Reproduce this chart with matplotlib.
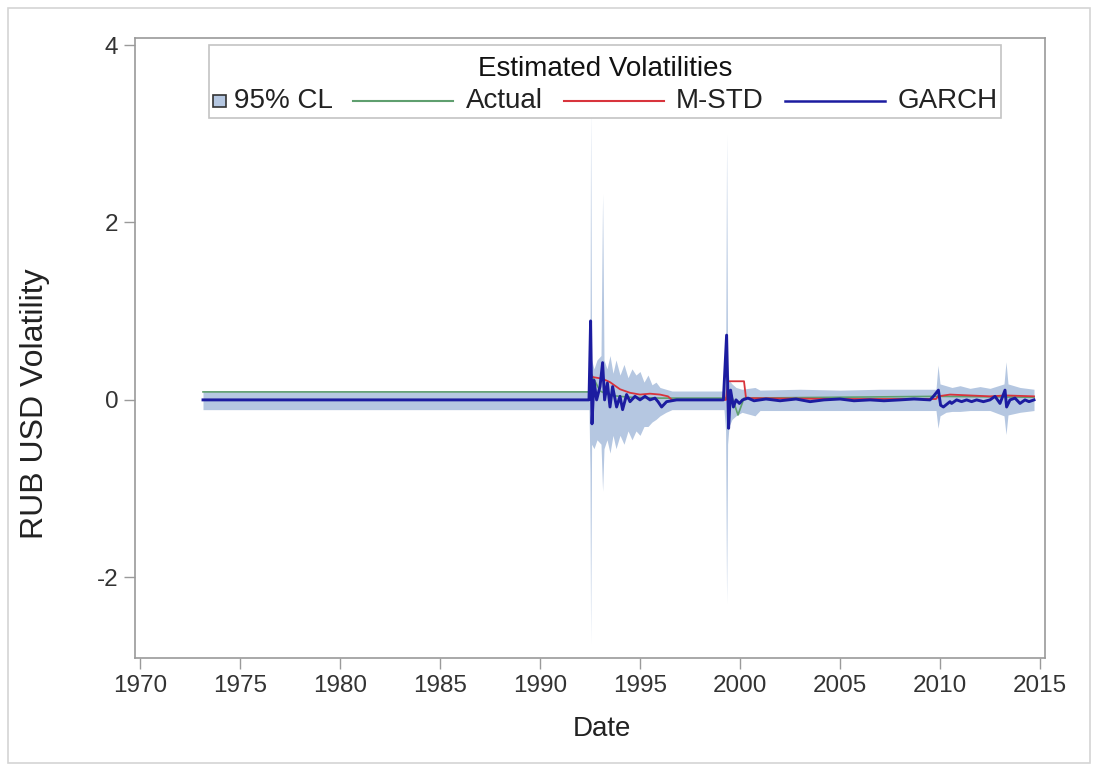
import numpy as np
import matplotlib
matplotlib.use('Agg')
import matplotlib.pyplot as plt
from matplotlib.patches import Rectangle
from matplotlib.lines import Line2D
from matplotlib.offsetbox import AnchoredOffsetbox, HPacker, VPacker, TextArea, DrawingArea

plt.rcParams['font.family'] = ['Liberation Sans', 'DejaVu Sans']
plt.rcParams['axes.unicode_minus'] = False

# --- data (decimal years) ---
cl_date = [1973.15, 1992.45, 1992.50, 1992.53, 1992.58, 1992.70, 1992.85, 1993.05, 1993.13,
           1993.20, 1993.35, 1993.50, 1993.65, 1993.80, 1994.00, 1994.20, 1994.40, 1994.60,
           1994.80, 1995.00, 1995.20, 1995.40, 1995.60, 1995.80, 1996.00, 1996.30, 1996.60,
           1999.20, 1999.28, 1999.33, 1999.38, 1999.45, 1999.60, 1999.80, 2000.10, 2000.75,
           2001.00, 2003.00, 2005.00, 2007.00, 2009.80, 2009.90, 2010.00, 2010.30, 2010.60,
           2011.00, 2011.50, 2012.00, 2012.50, 2013.20, 2013.30, 2013.40, 2014.00, 2014.70]
cl_upper = [0.10, 0.10, 0.50, 3.30, 0.45, 0.35, 0.45, 0.50, 2.33,
            0.45, 0.35, 0.50, 0.30, 0.45, 0.28, 0.40, 0.25, 0.35,
            0.28, 0.32, 0.20, 0.28, 0.17, 0.20, 0.14, 0.12, 0.10,
            0.10, 0.25, 3.00, 0.40, 0.22, 0.18, 0.14, 0.12, 0.14,
            0.11, 0.12, 0.11, 0.12, 0.12, 0.39, 0.18, 0.16, 0.14,
            0.16, 0.13, 0.15, 0.13, 0.18, 0.43, 0.18, 0.14, 0.12]
cl_lower = [-0.11, -0.11, -0.80, -2.75, -0.50, -0.55, -0.45, -0.50, -1.03,
            -0.55, -0.45, -0.60, -0.40, -0.55, -0.40, -0.50, -0.35, -0.45,
            -0.35, -0.40, -0.30, -0.30, -0.25, -0.22, -0.18, -0.14, -0.11,
            -0.11, -0.35, -2.30, -0.50, -0.30, -0.22, -0.18, -0.14, -0.18,
            -0.12, -0.12, -0.12, -0.12, -0.12, -0.32, -0.18, -0.14, -0.13,
            -0.13, -0.12, -0.12, -0.12, -0.18, -0.39, -0.17, -0.14, -0.12]

act_date = [1973.15, 1992.45, 1992.55, 1993.00, 1993.50, 1994.50, 1996.00, 1999.30, 1999.50,
            1999.90, 2000.20, 2009.90, 2014.70]
act_vol = [0.09, 0.09, 0.30, 0.10, 0.05, 0.03, 0.02, 0.02, 0.10,
           -0.17, 0.02, 0.04, 0.03]

mstd_date = [1973.15, 1992.45, 1992.55, 1993.10, 1993.50, 1994.00, 1994.50, 1995.00, 1995.50,
             1996.00, 1996.40, 1996.60, 1999.30, 1999.40, 2000.20, 2000.30, 2005.00, 2009.80,
             2009.90, 2010.50, 2011.50, 2012.50, 2013.30, 2014.70]
mstd_vol = [0.00, 0.00, 0.26, 0.24, 0.20, 0.12, 0.08, 0.06, 0.07,
            0.06, 0.04, 0.00, 0.00, 0.21, 0.21, 0.02, 0.01, 0.01,
            0.04, 0.06, 0.05, 0.04, 0.05, 0.04]

garch_date = [1973.15, 1992.45, 1992.53, 1992.60, 1992.70, 1992.83, 1993.00, 1993.13, 1993.23,
              1993.37, 1993.50, 1993.63, 1993.83, 1994.00, 1994.13, 1994.33, 1994.50, 1994.75,
              1995.00, 1995.25, 1995.50, 1995.75, 1995.90, 1996.08, 1996.33, 1996.83, 1999.17,
              1999.33, 1999.43, 1999.53, 1999.67, 1999.80, 1999.97, 2000.13, 2000.40, 2000.70,
              2001.30, 2002.00, 2002.80, 2003.50, 2004.20, 2005.00, 2005.70, 2006.50, 2007.20,
              2008.00, 2008.70, 2009.50, 2009.67, 2009.92, 2010.03,
              2010.17, 2010.50, 2010.58, 2010.83, 2011.08, 2011.33, 2011.58, 2011.83, 2012.17,
              2012.50, 2012.75, 2013.00, 2013.25, 2013.33, 2013.50, 2013.75, 2014.00, 2014.25,
              2014.45, 2014.70]
garch_vol = [0.00, 0.00, 0.89, -0.27, 0.22, 0.00, 0.15, 0.42, 0.00,
             0.19, -0.08, 0.15, -0.08, 0.04, -0.11, 0.06, -0.02, 0.04,
             0.00, 0.04, 0.00, 0.02, -0.02, -0.08, -0.02, 0.00, 0.00,
             0.73, -0.32, 0.11, -0.08, 0.00, -0.04, 0.00, 0.02, -0.01,
             0.01, -0.01, 0.01, -0.02, 0.00, 0.01, -0.01, 0.00, -0.01,
             0.00, 0.01, 0.00, 0.04, 0.11, -0.06,
             -0.08, -0.02, -0.04, 0.00, -0.02, 0.00, -0.02, 0.00, -0.02,
             0.00, 0.04, -0.04, 0.11, -0.08, 0.00, 0.02, -0.04, 0.00,
             -0.02, 0.00]

band_color = '#b5c7e1'
act_color = '#5f9f6f'
mstd_color = '#d8343c'
garch_color = '#1c1ca0'

fig = plt.figure(figsize=(10.97, 7.71), dpi=100)
fig.patches.append(Rectangle((8 / 1097, 8 / 771), 1082 / 1097, 755 / 771, transform=fig.transFigure,
                             fill=False, ec='#d4d4d4', lw=1.2))
ax = fig.add_axes([135 / 1097, 1 - 658 / 771, 910 / 1097, 620 / 771])

ax.fill_between(cl_date, cl_lower, cl_upper, color=band_color, lw=0, zorder=1)
ax.plot(act_date, act_vol, color=act_color, lw=1.2, zorder=2)
ax.plot(mstd_date, mstd_vol, color=mstd_color, lw=1.3, zorder=3)
ax.plot(garch_date, garch_vol, color=garch_color, lw=2.1, zorder=4)

ax.set_xlim(1969.75, 2015.25)
ax.set_ylim(-2.91, 4.08)
ax.set_xticks(np.arange(1970, 2016, 5))
ax.set_yticks([-2, 0, 2, 4])
for s in ax.spines.values():
    s.set_color('#9a9a9a')
    s.set_linewidth(1.2)
ax.tick_params(direction='out', length=8, width=1, color='#9a9a9a', labelsize=17.5,
               labelcolor='#333333', pad=4)
ax.set_xlabel('Date', fontsize=20, color='#222222')
ax.set_ylabel('RUB USD Volatility', fontsize=23, color='#222222')
ax.xaxis.set_label_coords(0.513, -0.094)
ax.yaxis.set_label_coords(-0.093, 0.41)

# legend built from offset boxes so the CL square and the lines can differ in size
def line_box(color, lw):
    da = DrawingArea(72, 10)
    da.add_artist(Line2D([0, 72], [5, 5], color=color, lw=lw))
    return da

sq = DrawingArea(10, 10)
sq.add_artist(Rectangle((0.5, 0.5), 9, 9, fc=band_color, ec='#333333', lw=1.2))
tp = dict(fontsize=20, color='#222222')
entries = [HPacker(children=[sq, TextArea('95% CL', textprops=tp)], sep=5, align='center'),
           HPacker(children=[line_box(act_color, 1.5), TextArea('Actual', textprops=tp)], sep=9, align='center'),
           HPacker(children=[line_box(mstd_color, 1.5), TextArea('M-STD', textprops=tp)], sep=9, align='center'),
           HPacker(children=[line_box(garch_color, 1.8), TextArea('GARCH', textprops=tp)], sep=9, align='center')]
row = HPacker(children=entries, sep=15, align='center')
title = TextArea('Estimated Volatilities', textprops=dict(fontsize=20, color='#111111'))
spacer = DrawingArea(1, 0)
box = VPacker(children=[spacer, title, row], sep=4.6, align='center')
leg = AnchoredOffsetbox(loc='upper center', child=box, pad=0.3, borderpad=0, frameon=True,
                        bbox_to_anchor=(0.5165, 0.9887), bbox_transform=ax.transAxes)
leg.patch.set_edgecolor('#c4c4c4')
leg.patch.set_linewidth(1.2)
ax.add_artist(leg)

fig.savefig('out.png', dpi=100)
